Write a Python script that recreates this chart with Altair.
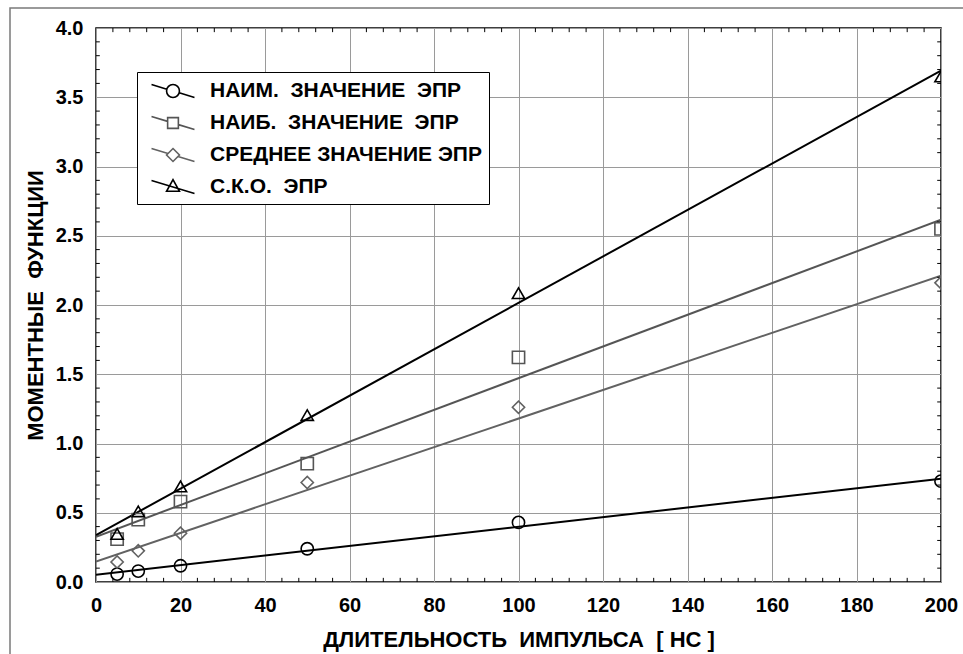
import altair as alt
import pandas as pd

NB = "\u00a0"
S2 = " " + NB  # visible double space

# ---------------- data ----------------
labels = [
    "НАИМ." + S2 + "ЗНАЧЕНИЕ" + S2 + "ЭПР",
    "НАИБ." + S2 + "ЗНАЧЕНИЕ" + S2 + "ЭПР",
    "СРЕДНЕЕ ЗНАЧЕНИЕ ЭПР",
    "С.К.О." + S2 + "ЭПР",
]
pulse_ns = [5, 10, 20, 50, 100, 200]
y_min = [0.057, 0.079, 0.117, 0.240, 0.430, 0.728]
y_max = [0.310, 0.450, 0.580, 0.855, 1.622, 2.550]
y_mean = [0.144, 0.225, 0.352, 0.718, 1.262, 2.160]
y_sko = [0.347, 0.510, 0.690, 1.205, 2.085, 3.650]
series_values = [y_min, y_max, y_mean, y_sko]

x_ticks = [0, 20, 40, 60, 80, 100, 120, 140, 160, 180, 200]
y_ticks = [0.0, 0.5, 1.0, 1.5, 2.0, 2.5, 3.0, 3.5, 4.0]
x_minor = [v for v in range(4, 200, 4) if v % 20 != 0]
y_minor = [round(v * 0.1, 1) for v in range(1, 40) if v % 5 != 0]

x_title = "ДЛИТЕЛЬНОСТЬ" + S2 + "ИМПУЛЬСА" + S2 + "[ НС ]"
y_title = "МОМЕНТНЫЕ" + S2 + "ФУНКЦИИ"

# ---------------- styles ----------------
colors = ["#000000", "#555555", "#626262", "#000000"]
plot_shapes = ["circle", "square", "diamond", "triangle-up"]
legend_shapes = [
    "M-2,-0.6L-0.574,-0.172M0.574,0.172L2,0.6M-0.6,0A0.6,0.6,0,1,0,0.6,0A0.6,0.6,0,1,0,-0.6,0Z",
    "M-2,-0.6L-0.5,-0.15M0.5,0.15L2,0.6M-0.5,-0.5L0.5,-0.5L0.5,0.5L-0.5,0.5Z",
    "M-2,-0.6L-0.462,-0.138M0.462,0.138L2,0.6M0,-0.6L0.6,0L0,0.6L-0.6,0Z",
    "M-2,-0.6L2,0.6M0,-0.68L0.6,0.4L-0.6,0.4Z",
]
FONT = "Liberation Sans"

rows = [
    {"x": x, "y": y, "series": lab}
    for lab, ys in zip(labels, series_values)
    for x, y in zip(pulse_ns, ys)
]
df = pd.DataFrame(rows)

xs = alt.Scale(domain=[0, 200], nice=False, zero=False)
ys = alt.Scale(domain=[0, 4], nice=False, zero=False)
cscale = alt.Scale(domain=labels, range=colors)

x_axis = alt.Axis(
    values=x_ticks, grid=True, tickSize=0, domain=False, title=x_title,
    labelFont=FONT, labelFontSize=20, labelFontWeight="bold", labelColor="black",
    labelPadding=13, labelFlush=False, labelOverlap=False,
    titleFont=FONT, titleFontSize=22, titleFontWeight="bold", titleColor="black",
    titlePadding=14,
)
y_axis = alt.Axis(
    values=y_ticks, format=".1f", grid=True, tickSize=0, domain=False, title=y_title,
    labelFont=FONT, labelFontSize=20, labelFontWeight="bold", labelColor="black",
    labelPadding=13, labelFlush=False, labelOverlap=False,
    titleFont=FONT, titleFontSize=22, titleFontWeight="bold", titleColor="black",
    titlePadding=8,
)

base = alt.Chart(df)

lines = base.transform_regression(
    "x", "y", groupby=["series"], extent=[0, 200]
).mark_line(strokeWidth=2, clip=True).encode(
    x=alt.X("x:Q", scale=xs, axis=x_axis),
    y=alt.Y("y:Q", scale=ys, axis=y_axis),
    color=alt.Color("series:N", scale=cscale, legend=None),
)

points = base.mark_point(filled=False, size=150, strokeWidth=1.6, opacity=1, clip=True).encode(
    x=alt.X("x:Q", scale=xs),
    y=alt.Y("y:Q", scale=ys),
    color=alt.Color("series:N", scale=cscale, legend=None),
    shape=alt.Shape("series:N", scale=alt.Scale(domain=labels, range=plot_shapes), legend=None),
)

leg_props = dict(
    title=None, orient="none", legendX=41, legendY=44, padding=7,
    strokeColor="black", fillColor="white",
    labelFont=FONT, labelFontSize=21, labelFontWeight="bold", labelColor="black",
    labelLimit=0, labelOffset=25, symbolOffset=17, symbolSize=462,
    symbolStrokeWidth=1.6, rowPadding=10,
)

legend_layer = base.transform_filter("false").mark_point(
    filled=False, size=462, strokeWidth=1.6, opacity=1
).encode(
    x=alt.X("x:Q", scale=xs),
    y=alt.Y("y:Q", scale=ys),
    color=alt.Color("series:N", scale=cscale, legend=alt.Legend(**leg_props)),
    shape=alt.Shape("series:N", scale=alt.Scale(domain=labels, range=legend_shapes),
                    legend=alt.Legend(**leg_props)),
)

xm = pd.DataFrame({"x": x_minor})
ym = pd.DataFrame({"y": y_minor})
tick_style = dict(color="black", strokeWidth=1)
t_bottom = alt.Chart(xm).mark_rule(**tick_style).encode(
    x=alt.X("x:Q", scale=xs), y=alt.datum(0), y2=alt.datum(0.03))
t_top = alt.Chart(xm).mark_rule(**tick_style).encode(
    x=alt.X("x:Q", scale=xs), y=alt.datum(4), y2=alt.datum(3.97))
t_left = alt.Chart(ym).mark_rule(**tick_style).encode(
    y=alt.Y("y:Q", scale=ys), x=alt.datum(0), x2=alt.datum(0.9))
t_right = alt.Chart(ym).mark_rule(**tick_style).encode(
    y=alt.Y("y:Q", scale=ys), x=alt.datum(200), x2=alt.datum(199.1))

# outer page frame (only its left and top edges fall inside the picture)
frame_df = pd.DataFrame({"k": [0]})
frame = alt.Chart(frame_df).mark_rect(
    stroke="#7a7a7a", strokeWidth=1.5, fill="white", fillOpacity=0
).encode(
    x=alt.value(-86), x2=alt.value(900), y=alt.value(-20), y2=alt.value(660))

chart = alt.layer(
    frame, lines, t_bottom, t_top, t_left, t_right, points, legend_layer
).resolve_scale(
    color="independent", shape="independent"
).properties(
    width=845, height=554,
    autosize=alt.AutoSizeParams(type="none"),
    padding={"left": 96, "top": 28, "right": 22, "bottom": 72},
    background="white",
).configure_view(
    stroke="black", strokeWidth=1.5
).configure_axis(
    gridColor="#9a9a9a", gridWidth=1, gridOpacity=1
)

chart.save("out.html", embed_options={"renderer": "svg", "actions": False})
